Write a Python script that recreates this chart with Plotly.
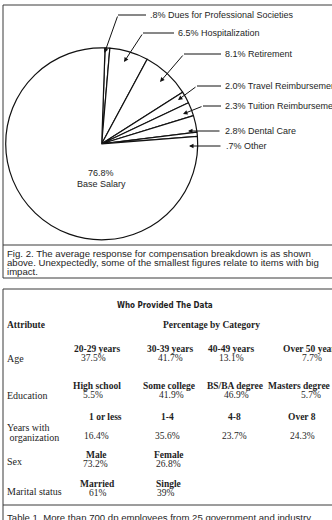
import plotly.graph_objects as go

# ---------------- data ----------------
comp_labels = ["Dues for Professional Societies", "Hospitalization", "Retirement",
               "Travel Reimbursement", "Tuition Reimbursement", "Dental Care",
               "Other", "Base Salary"]
comp_values = [0.8, 6.5, 8.1, 2.0, 2.3, 2.8, 0.7, 76.8]

caption_fig = ["Fig. 2. The average response for compensation breakdown is as shown",
               "above. Unexpectedly, some of the smallest figures relate to items with big",
               "impact."]
caption_table = "Table 1. More than 700 dp employees from 25 government and industry"

table_title = "Who Provided The Data"
attr_header = "Attribute"
cat_header = "Percentage by Category"
row_names = [["Age"], ["Education"], ["Years with", " organization"], ["Sex"], ["Marital status"]]
age_cats = ["20-29 years", "30-39 years", "40-49 years", "Over 50 years"]
age_pct = [37.5, 41.7, 13.1, 7.7]
edu_cats = ["High school", "Some college", "BS/BA degree", "Masters degree"]
edu_pct = [5.5, 41.9, 46.9, 5.7]
yrs_cats = ["1 or less", "1-4", "4-8", "Over 8"]
yrs_pct = [16.4, 35.6, 23.7, 24.3]
sex_cats = ["Male", "Female"]
sex_pct = [73.2, 26.8]
mar_cats = ["Married", "Single"]
mar_pct = [61, 39]

# ---------------- layout helpers ----------------
W, H = 332, 520
def X(px):
    return px / W
def Y(py):
    return 1 - py / H

def pct_short(v):
    s = f"{v:.1f}%"
    return s[1:] if s.startswith("0") else s

SANS = "Liberation Sans, Arial, Helvetica, sans-serif"
SERIF = "Liberation Serif, Times New Roman, serif"
NARROW = "Liberation Sans Narrow, DejaVu Sans Condensed, Arial Narrow, Liberation Sans, sans-serif"
INK = "#1e1e1e"
LINE = "#3a3a3a"

def txt(px, py, text, family, size, xanchor="left"):
    return dict(x=X(px), y=Y(py), xref="paper", yref="paper", xanchor=xanchor,
                yanchor="middle", showarrow=False, text=text,
                font=dict(family=family, size=size, color=INK))

fig = go.Figure()

# pie
cx, cy, R = 101.7, 143.8, 96
fig.add_trace(go.Pie(
    labels=comp_labels, values=comp_values, sort=False, direction="clockwise",
    rotation=2, textinfo="none", hoverinfo="label+percent", showlegend=False,
    marker=dict(colors=["white"] * len(comp_values), line=dict(color="#111", width=1.2)),
    domain=dict(x=[X(cx - R), X(cx + R)], y=[Y(cy + R), Y(cy - R)]),
))

annotations = []
shapes = []

# leader lines: (text x, text y, elbow x, tip x, tip y)
leaders = [
    (148, 15, 118, 104.5, 53),
    (176, 33, 143, 124, 62),
    (223, 54, 184, 160, 82),
    (223, 86, 197, 178, 100),
    (223, 106, 203, 183, 114),
    (223, 131, None, 188, 131),
    (224, 146, None, 189, 146),
]
for (tx, ty, ex, tipx, tipy), lab, val in zip(leaders, comp_labels[:-1], comp_values[:-1]):
    annotations.append(txt(tx, ty, f"{pct_short(val)} {lab}", SANS, 9))
    if ex is None:
        ex = tx - 2
    else:
        shapes.append(dict(type="line", xref="paper", yref="paper",
                           x0=X(ex), y0=Y(ty), x1=X(tx - 2), y1=Y(ty),
                           line=dict(color="#111", width=1)))
    annotations.append(dict(x=X(tipx), y=Y(tipy), xref="paper", yref="paper",
                            xanchor="center", yanchor="middle",
                            ax=ex - tipx, ay=ty - tipy, axref="pixel", ayref="pixel",
                            showarrow=True, arrowhead=2, arrowsize=0.9, arrowwidth=1,
                            arrowcolor="#111", text=""))

# base salary label
annotations.append(txt(101, 173, pct_short(comp_values[-1]), SANS, 9, "center"))
annotations.append(txt(101, 184, comp_labels[-1], SANS, 9, "center"))

# figure box
shapes.append(dict(type="rect", xref="paper", yref="paper", x0=X(3), y0=Y(5), x1=X(345), y1=Y(278),
                   line=dict(color=LINE, width=1)))
shapes.append(dict(type="line", xref="paper", yref="paper", x0=X(3), y0=Y(245), x1=X(345), y1=Y(245),
                   line=dict(color=LINE, width=1)))
for i, line in enumerate(caption_fig):
    annotations.append(txt(5, 253 + 9.4 * i, line, SANS, 9.6))

# table box
shapes.append(dict(type="rect", xref="paper", yref="paper", x0=X(3), y0=Y(289), x1=X(345), y1=Y(560),
                   line=dict(color=LINE, width=1)))
shapes.append(dict(type="line", xref="paper", yref="paper", x0=X(3), y0=Y(505), x1=X(345), y1=Y(505),
                   line=dict(color=LINE, width=1)))
annotations.append(txt(5, 517, caption_table, SANS, 9.6))

annotations.append(txt(165, 305, f"<b>{table_title}</b>", NARROW, 8, "center"))
annotations.append(txt(5, 325, f"<b>{attr_header}</b>", SERIF, 9.5))
annotations.append(txt(212, 325, f"<b>{cat_header}</b>", SERIF, 9.5, "center"))

rows = [
    (age_cats, age_pct, 349, 358, [358], [97, 170, 231, 311], [93, 170, 231, 312]),
    (edu_cats, edu_pct, 386, 395, [395], [97, 169, 235, 299], [93, 171, 236, 311]),
    (yrs_cats, yrs_pct, 417, 436, [427, 437], [105, 167, 234, 302], [96, 167, 234, 302]),
    (sex_cats, sex_pct, 455, 464, [461], [96, 169], [95, 168]),
    (mar_cats, mar_pct, 484, 493, [491], [97, 168], [98, 166]),
]
for (cats, pcts, hy, vy, ly, hx, vx), names in zip(rows, row_names):
    for nm, yy in zip(names, ly):
        label = "&nbsp;" + nm.strip() if nm.startswith(" ") else nm
        annotations.append(txt(5, yy, label, SERIF, 10))
    for c, p, x1, x2 in zip(cats, pcts, hx, vx):
        annotations.append(txt(x1, hy, f"<b>{c}</b>", SERIF, 9.5, "center"))
        annotations.append(txt(x2, vy, f"{p:g}%", SERIF, 9.5, "center"))

fig.update_layout(
    width=W, height=H, margin=dict(l=0, r=0, t=0, b=0),
    paper_bgcolor="white", plot_bgcolor="white",
    annotations=annotations, shapes=shapes, showlegend=False,
)
fig.write_html("out.html", config={"displayModeBar": False})
